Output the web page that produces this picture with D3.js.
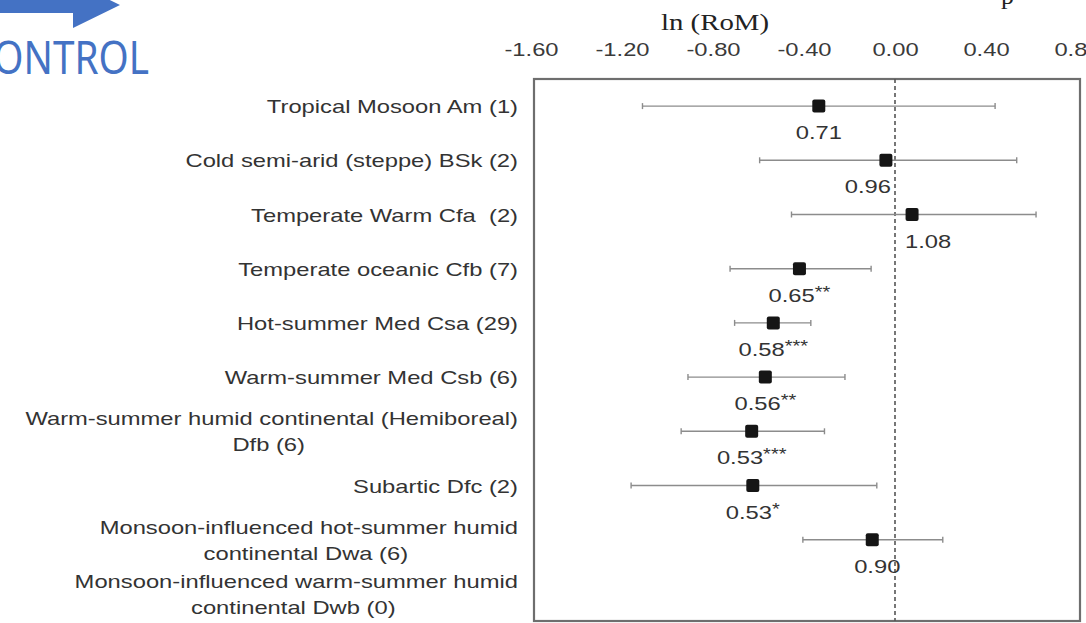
<!DOCTYPE html>
<html>
<head>
<meta charset="utf-8">
<script src="https://cdn.jsdelivr.net/npm/d3@7"></script>
<style>
  body { margin: 0; background: #fff; }
  svg { display: block; }
</style>
</head>
<body>
<div id="chart"></div>
<script>
// ===== forest plot: ln(RoM) by climate zone =====

// category labels (one entry per line)
const categories = [
    ["Tropical Mosoon Am (1)"],
    ["Cold semi-arid (steppe) BSk (2)"],
    ["Temperate Warm Cfa  (2)"],
    ["Temperate oceanic Cfb (7)"],
    ["Hot-summer Med Csa (29)"],
    ["Warm-summer Med Csb (6)"],
    ["Warm-summer humid continental (Hemiboreal)", "Dfb (6)"],
    ["Subartic Dfc (2)"],
    ["Monsoon-influenced hot-summer humid", "continental Dwa (6)"],
    ["Monsoon-influenced warm-summer humid", "continental Dwb (0)"]
];

// ln(RoM) estimate and 95% CI (null = no data)
const estimate = [-0.335, -0.04, 0.075, -0.42, -0.535, -0.57, -0.63, -0.625, -0.10, null];
const ciLow    = [-1.11, -0.595, -0.455, -0.725, -0.705, -0.91, -0.94, -1.16, -0.405, null];
const ciHigh   = [0.44, 0.535, 0.62, -0.105, -0.37, -0.22, -0.31, -0.08, 0.21, null];

// back-transformed RoM labels + significance stars
const romLabel = ["0.71", "0.96", "1.08", "0.65", "0.58", "0.56", "0.53", "0.53", "0.90", null];
const stars    = ["", "", "", "**", "***", "**", "***", "*", "", ""];

const xTicks = [-1.6, -1.2, -0.8, -0.4, 0, 0.4, 0.8];

const width = 1086, height = 623;
const stretch = 1.25;              // the figure is stretched horizontally
const box = { left: 534, right: 1080, top: 79, bottom: 621 };

const svg = d3.select('#chart')
    .append('svg')
    .attr('width', width)
    .attr('height', height);

const x = d3.scaleLinear().domain([-1.6, 0.8]).range([531, 1077]);
const y = d3.scaleBand().domain(d3.range(categories.length)).range([box.top, box.bottom]);
const yc = i => y(i) + y.bandwidth() / 2;

// slide decoration: blue arrow and cut-off "CONTROL"
const blue = '#4472C4';
svg.append('path')
    .attr('d', 'M0,-3 L73,-3 L73,-18 L120,5 L73,28 L73,13 L0,13 Z')
    .style('fill', blue);
svg.append('text')
    .attr('transform', `translate(149,74) scale(0.86,1)`)
    .style('text-anchor', 'end')
    .style('font-family', '"Noto Sans", sans-serif')
    .style('font-size', '45px')
    .style('fill', blue)
    .text('CONTROL');

// cut-off title descender at the very top
svg.append('text')
    .attr('x', 1001).attr('y', 4)
    .style('font-family', '"Liberation Serif", serif')
    .style('font-size', '26px')
    .style('fill', '#222')
    .text('p');

// axis title
svg.append('text')
    .attr('transform', `translate(${x(-0.8) + 2},30) scale(1.2,1)`)
    .style('text-anchor', 'middle')
    .style('font-family', '"Liberation Serif", serif')
    .style('font-size', '24px')
    .style('fill', '#222')
    .text('ln (RoM)');

// top axis (labels only), plain hyphen for negatives like the original
const fmt = d3.format('.2f');
const axis = svg.append('g')
    .attr('transform', 'translate(0,56)')
    .call(d3.axisTop(x).tickValues(xTicks)
        .tickFormat(d => fmt(d).replace('\u2212', '-'))
        .tickSize(0).tickPadding(0));
axis.select('.domain').remove();
axis.selectAll('text')
    .attr('y', 0)
    .attr('dy', 0)
    .attr('transform', `scale(${stretch},1)`)
    .style('font-family', '"Liberation Sans", Arial, sans-serif')
    .style('font-size', '19px')
    .style('fill', '#3a3a3a');

// frame
svg.append('rect')
    .attr('x', box.left).attr('y', box.top)
    .attr('width', box.right - box.left).attr('height', box.bottom - box.top)
    .style('fill', 'none')
    .style('stroke', '#6e6e6e')
    .style('stroke-width', 2.2);

// null line
svg.append('line')
    .attr('x1', x(0)).attr('x2', x(0))
    .attr('y1', box.top).attr('y2', box.bottom)
    .style('stroke', '#555')
    .style('stroke-width', 1.6)
    .style('stroke-dasharray', '4,3');

// category labels
const labelFont = { family: '"Liberation Sans", Arial, sans-serif', size: '19px', fill: '#333' };
categories.forEach((lines, i) => {
    const g = svg.append('g');
    const lineH = 26;
    const y0 = yc(i) + 7 - (lines.length - 1) * lineH / 2;
    const first = g.append('text')
        .attr('transform', `translate(518,${y0}) scale(${stretch},1)`)
        .style('text-anchor', 'end')
        .style('white-space', 'pre')
        .style('font-family', labelFont.family)
        .style('font-size', labelFont.size)
        .style('fill', labelFont.fill)
        .text(lines[0]);
    if (lines.length > 1) {
        const w = first.node().getComputedTextLength() * stretch;
        g.append('text')
            .attr('transform', `translate(${518 - w / 2 - 3},${y0 + lineH}) scale(${stretch},1)`)
            .style('text-anchor', 'middle')
            .style('font-family', labelFont.family)
            .style('font-size', labelFont.size)
            .style('fill', labelFont.fill)
            .text(lines[1]);
    }
});

// error bars + points
const rows = d3.range(categories.length).filter(i => estimate[i] !== null);
const capH = 3;

const bars = svg.append('g')
    .style('stroke', '#8c8c8c')
    .style('stroke-width', 1.4);
rows.forEach(i => {
    bars.append('line')
        .attr('x1', x(ciLow[i])).attr('x2', x(ciHigh[i]))
        .attr('y1', yc(i)).attr('y2', yc(i));
    [ciLow[i], ciHigh[i]].forEach(v => {
        bars.append('line')
            .attr('x1', x(v)).attr('x2', x(v))
            .attr('y1', yc(i) - capH).attr('y2', yc(i) + capH);
    });
});

const sq = 13;
svg.append('g')
    .selectAll('rect')
    .data(rows)
    .enter().append('rect')
    .attr('x', i => x(estimate[i]) - sq / 2)
    .attr('y', i => yc(i) - sq / 2)
    .attr('width', sq).attr('height', sq)
    .attr('rx', 2)
    .style('fill', '#151515');

// RoM value labels (nudged off the null line where they'd collide)
const labelNudge = { 1: -18, 2: 16, 8: 5 };
const vals = svg.append('g')
    .selectAll('text')
    .data(rows)
    .enter().append('text')
    .attr('transform', i => `translate(${x(estimate[i]) + (labelNudge[i] || 0)},${yc(i) + 33}) scale(${stretch},1)`)
    .style('text-anchor', 'middle')
    .style('font-family', labelFont.family)
    .style('font-size', labelFont.size)
    .style('fill', labelFont.fill);
vals.append('tspan').text(i => romLabel[i]);
vals.append('tspan')
    .attr('dy', -4)
    .style('font-size', '16px')
    .text(i => stars[i]);
</script>
</body>
</html>
